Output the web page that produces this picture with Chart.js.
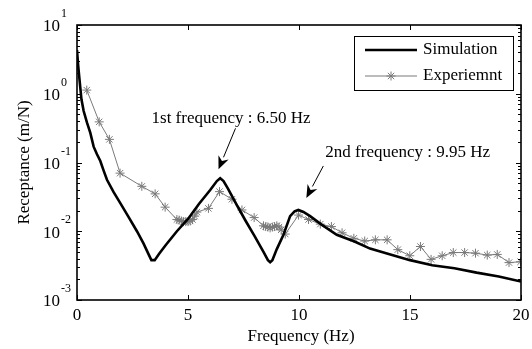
<!DOCTYPE html>
<html>
<head>
<meta charset="utf-8">
<script src="https://cdn.jsdelivr.net/npm/chart.js@4/dist/chart.umd.min.js"></script>
<style>
html,body{margin:0;padding:0;background:#fff;}
canvas{display:block;}
</style>
</head>
<body>
<canvas id="c" width="532" height="349"></canvas>
<script>
// ---- data ----
const simFreq = [0,0.05,0.1,0.2,0.3,0.45,0.6,0.75,0.9,1.05,1.2,1.35,1.65,1.95,2.3,2.7,3.0,3.2,3.35,3.5,3.7,4.0,4.5,5.0,5.5,6.0,6.3,6.45,6.6,6.8,7.2,7.6,8.0,8.4,8.6,8.7,8.8,9.0,9.3,9.6,9.8,9.97,10.2,10.5,11,11.7,12.5,13.2,14,15,16,17,18,19,20];
const simValues = [4.33,2.63,1.78,0.83,0.56,0.38,0.27,0.17,0.132,0.105,0.076,0.056,0.037,0.0257,0.0166,0.0100,0.0066,0.0048,0.0038,0.0038,0.0047,0.0063,0.0100,0.0151,0.0251,0.0398,0.0537,0.0589,0.0537,0.0417,0.0240,0.0141,0.0085,0.0050,0.0038,0.00355,0.0038,0.0055,0.0089,0.0166,0.0195,0.0204,0.0191,0.0166,0.0126,0.0089,0.0071,0.0056,0.0047,0.0038,0.0032,0.0029,0.0025,0.0022,0.00186];
const expFreq = [0.44,1.0,1.46,1.94,2.92,3.52,3.97,4.5,4.6,4.7,4.8,4.9,5.0,5.1,5.2,5.3,5.4,5.92,6.42,6.98,7.43,7.98,8.4,8.5,8.6,8.7,8.8,8.9,9.0,9.1,9.2,9.38,9.98,10.43,10.96,11.46,11.94,12.47,12.96,13.44,13.97,14.45,14.99,15.47,15.95,16.45,16.95,17.46,17.95,18.48,18.93,19.46,19.98];
const expValues = [1.13,0.39,0.217,0.070,0.045,0.035,0.0224,0.0148,0.0145,0.0141,0.0138,0.0138,0.0138,0.0141,0.0148,0.0166,0.019,0.0215,0.0377,0.0292,0.0204,0.0158,0.0120,0.0117,0.0115,0.0112,0.0115,0.0117,0.0120,0.0115,0.0105,0.0091,0.0172,0.0148,0.0127,0.0117,0.0095,0.0079,0.0072,0.0075,0.0075,0.0054,0.0044,0.0060,0.0039,0.0044,0.0049,0.0049,0.0048,0.0045,0.0046,0.0035,0.0036];
const xTicks = [0,5,10,15,20];
const yExponents = [-3,-2,-1,0,1];
const seriesNames = ["Simulation","Experiemnt"];
const peakLabels = ["1st frequency : 6.50 Hz","2nd frequency : 9.95 Hz"];
const peakFreqs = [6.42, 9.97];
const axisTitles = {x:"Frequency (Hz)", y:"Receptance (m/N)"};

const FONT = '"Liberation Serif","Times New Roman",serif';
const GRAY = '#7a7a7a';

function arrow(ctx, x0, y0, x1, y1){
  const ang = Math.atan2(y1-y0, x1-x0);
  const L = 13, W = 5.5;
  const bx = x1 - L*Math.cos(ang), by = y1 - L*Math.sin(ang);
  ctx.beginPath(); ctx.moveTo(x0,y0); ctx.lineTo(bx,by);
  ctx.lineWidth = 1; ctx.strokeStyle = '#000'; ctx.stroke();
  ctx.beginPath();
  ctx.moveTo(x1,y1);
  ctx.lineTo(bx + W*Math.sin(ang), by - W*Math.cos(ang));
  ctx.lineTo(x1 - (L-4)*Math.cos(ang), y1 - (L-4)*Math.sin(ang));
  ctx.lineTo(bx - W*Math.sin(ang), by + W*Math.cos(ang));
  ctx.closePath(); ctx.fillStyle = '#000'; ctx.fill();
}

function star(ctx, x, y, r){
  ctx.beginPath();
  ctx.moveTo(x-r,y); ctx.lineTo(x+r,y);
  ctx.moveTo(x,y-r); ctx.lineTo(x,y+r);
  const d = r*0.7071;
  ctx.moveTo(x-d,y-d); ctx.lineTo(x+d,y+d);
  ctx.moveTo(x-d,y+d); ctx.lineTo(x+d,y-d);
  ctx.stroke();
}

const decor = {
  id:'decor',
  afterDraw(chart){
    const ctx = chart.ctx, a = chart.chartArea;
    const xs = chart.scales.x, ys = chart.scales.y;
    ctx.save();
    // ticks
    ctx.strokeStyle = '#000'; ctx.lineWidth = 1;
    xTicks.forEach(v=>{
      const px = Math.round(xs.getPixelForValue(v))+0.5;
      ctx.beginPath();
      ctx.moveTo(px,a.bottom); ctx.lineTo(px,a.bottom-5);
      ctx.moveTo(px,a.top); ctx.lineTo(px,a.top+5);
      ctx.stroke();
    });
    yExponents.forEach(e=>{
      for(let m=1;m<=9;m++){
        const v = m*Math.pow(10,e);
        if(v>10.0001) break;
        const py = Math.round(ys.getPixelForValue(v))+0.5;
        const len = m===1?5:3;
        ctx.beginPath();
        ctx.moveTo(a.left,py); ctx.lineTo(a.left+len,py);
        ctx.moveTo(a.right,py); ctx.lineTo(a.right-len,py);
        ctx.stroke();
      }
    });
    // frame
    ctx.lineWidth = 1.6;
    ctx.strokeRect(a.left, a.top, a.right-a.left, a.bottom-a.top);
    // x tick labels
    ctx.fillStyle = '#000';
    ctx.font = '17px '+FONT;
    ctx.textAlign = 'center'; ctx.textBaseline = 'middle';
    xTicks.forEach(v=>{
      ctx.fillText(String(v), xs.getPixelForValue(v), a.bottom+16);
    });
    // y tick labels
    yExponents.forEach(e=>{
      const py = ys.getPixelForValue(Math.pow(10,e));
      ctx.font = '17px '+FONT; ctx.textAlign='right'; ctx.textBaseline='middle';
      ctx.fillText('10', a.left-17, py+2);
      ctx.font = '12px '+FONT; ctx.textAlign='left';
      ctx.fillText(String(e), a.left-16, py-11);
    });
    // axis titles
    ctx.font = '17px '+FONT; ctx.textAlign='center'; ctx.textBaseline='middle';
    ctx.fillText(axisTitles.x, (a.left+a.right)/2+2, a.bottom+37);
    ctx.save();
    ctx.translate(25, (a.top+a.bottom)/2);
    ctx.rotate(-Math.PI/2);
    ctx.fillText(axisTitles.y, 0, 0);
    ctx.restore();
    // annotations
    const s = chart.data.datasets[0].data;
    function valAt(f){ let best=s[0]; s.forEach(p=>{ if(Math.abs(p.x-f)<Math.abs(best.x-f)) best=p; }); return best.y; }
    // 1st
    {
      const tx = xs.getPixelForValue(peakFreqs[0]) - 1, ty = ys.getPixelForValue(valAt(peakFreqs[0])) - 9;
      arrow(ctx, tx+17, ty-41, tx, ty);
      ctx.font = '17px '+FONT; ctx.textAlign='left'; ctx.textBaseline='middle';
      ctx.fillText(peakLabels[0], tx-67, ty-51);
    }
    // 2nd
    {
      const tx = xs.getPixelForValue(peakFreqs[1]) + 8, ty = ys.getPixelForValue(valAt(peakFreqs[1])) - 12;
      arrow(ctx, tx+17, ty-32, tx, ty);
      ctx.font = '17px '+FONT; ctx.textAlign='left'; ctx.textBaseline='middle';
      ctx.fillText(peakLabels[1], tx+19, ty-45);
    }
    // legend
    const lx=354.5, ly=36.5, lw=159, lh=54;
    ctx.fillStyle='#fff'; ctx.fillRect(lx,ly,lw,lh);
    ctx.strokeStyle='#000'; ctx.lineWidth=1; ctx.strokeRect(lx,ly,lw,lh);
    ctx.beginPath(); ctx.moveTo(365,50); ctx.lineTo(417,50); ctx.lineWidth=2.6; ctx.stroke();
    ctx.beginPath(); ctx.moveTo(365,76); ctx.lineTo(417,76); ctx.lineWidth=1; ctx.strokeStyle=GRAY; ctx.stroke();
    star(ctx, 391, 76, 4.5);
    ctx.fillStyle='#000'; ctx.font='17px '+FONT; ctx.textAlign='left'; ctx.textBaseline='middle';
    ctx.fillText(seriesNames[0], 423, 50);
    ctx.fillText(seriesNames[1], 423, 76);
    ctx.restore();
  }
};

new Chart(document.getElementById('c'), {
  type:'line',
  data:{
    datasets:[
      {label:seriesNames[0], data:simFreq.map((f,i)=>({x:f,y:simValues[i]})), borderColor:'#000', borderWidth:2.6, pointRadius:0, tension:0, order:1},
      {label:seriesNames[1], data:expFreq.map((f,i)=>({x:f,y:expValues[i]})), borderColor:GRAY, borderWidth:1, pointStyle:'star', pointRadius:4.5, pointBorderColor:GRAY, pointBorderWidth:1, pointBackgroundColor:GRAY, tension:0, order:2}
    ]
  },
  options:{
    responsive:false, animation:false, devicePixelRatio:1,
    layout:{padding:{left:77, right:11, top:25, bottom:49}},
    plugins:{legend:{display:false}, tooltip:{enabled:false}},
    scales:{
      x:{type:'linear', min:0, max:20, display:false},
      y:{type:'logarithmic', min:0.001, max:10, display:false}
    }
  },
  plugins:[decor]
});
</script>
</body>
</html>
